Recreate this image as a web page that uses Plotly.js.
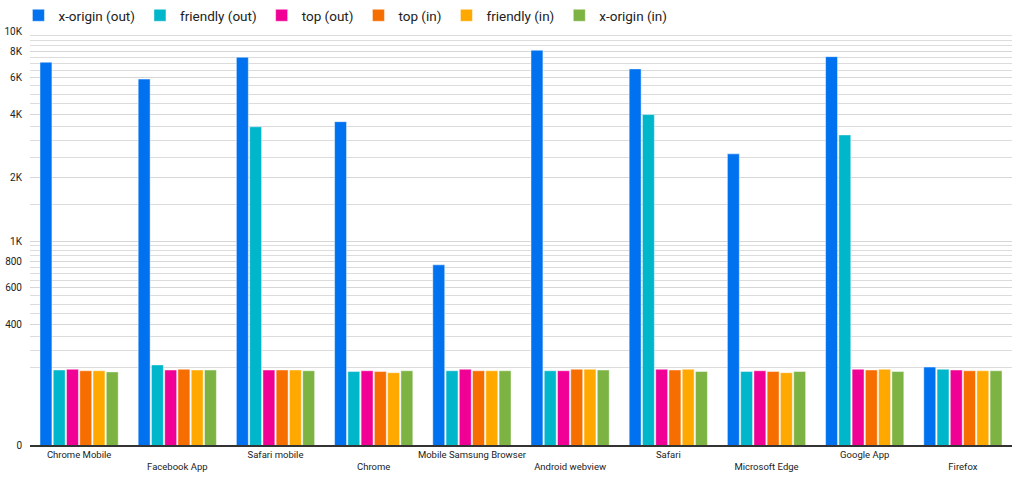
<!DOCTYPE html>
<html>
<head>
<meta charset="utf-8">
<script src="https://cdn.plot.ly/plotly-3.0.1.min.js"></script>
<style>
  html, body { margin: 0; padding: 0; background: #fff; }
  #chart { width: 1024px; height: 479px; }
</style>
</head>
<body>
<div id="chart"></div>
<script>
var browsers = ['Chrome Mobile', 'Facebook App', 'Safari mobile', 'Chrome', 'Mobile Samsung Browser',
                'Android webview', 'Safari', 'Microsoft Edge', 'Google App', 'Firefox'];

var xOriginOut  = [7100, 5900, 7500, 3700, 770, 8100, 6600, 2600, 7550, 251];
var friendlyOut = [243, 257, 3500, 239, 241, 241, 4000, 239, 3200, 245];
var topOut      = [245, 243, 243, 241, 245, 241, 245, 241, 245, 243];
var topIn       = [241, 245, 243, 239, 241, 245, 243, 239, 243, 241];
var friendlyIn  = [241, 243, 243, 236, 241, 245, 245, 236, 245, 241];
var xOriginIn   = [238, 243, 241, 241, 241, 243, 239, 239, 239, 241];

var seriesNames = ['x-origin (out)', 'friendly (out)', 'top (out)', 'top (in)', 'friendly (in)', 'x-origin (in)'];
var seriesData = [xOriginOut, friendlyOut, topOut, topIn, friendlyIn, xOriginIn];
var colors = ['#0072f0', '#00b6cb', '#f10096', '#f66d00', '#ffa800', '#7cb342'];

var yTickVals = [106.8, 400, 600, 800, 1000, 2000, 4000, 6000, 8000, 10000];
var yTickText = ['0', '400', '600', '800', '1K', '2K', '4K', '6K', '8K', '10K'];

// staggered category labels: every second one drops a line
var xTickText = browsers.map(function(b, i){ return i % 2 ? '<br>' + b : b; });

// light gridlines: every 50 below 1K, every 500 above
var grid = [];
for (var g = 250; g <= 1000; g += 50) grid.push(g);
for (var h = 1500; h <= 10000; h += 500) grid.push(h);

var data = seriesData.map(function(vals, i){
  return {
    type: 'bar',
    name: seriesNames[i],
    x: browsers,
    y: vals,
    marker: { color: colors[i], line: { color: 'rgba(255,255,255,0.45)', width: 1 } },
    hoverinfo: 'none'
  };
});

var layout = {
  width: 1024, height: 479,
  margin: { l: 30, r: 12, t: 31, b: 34 },
  paper_bgcolor: '#fff', plot_bgcolor: '#fff',
  font: { family: 'Roboto, sans-serif', size: 10, color: '#222' },
  barmode: 'group',
  bargap: 0.19,
  bargroupgap: 0.1,
  showlegend: true,
  legend: {
    orientation: 'h',
    xref: 'container', yref: 'container',
    x: 0.018, y: 1, xanchor: 'left', yanchor: 'top',
    bgcolor: 'rgba(0,0,0,0)',
    font: { size: 13.5, color: '#222' },
    itemwidth: 30,
    traceorder: 'normal'
  },
  xaxis: {
    type: 'category',
    tickmode: 'array', tickvals: browsers, ticktext: xTickText,
    tickangle: 0,
    showgrid: false,
    showline: true, linecolor: '#333', linewidth: 1.5,
    ticks: '', ticklen: 0,
    tickfont: { size: 9.5, color: '#222' },
    fixedrange: true
  },
  yaxis: {
    type: 'log',
    range: [Math.log10(106.8), 4],
    tickmode: 'array', tickvals: yTickVals, ticktext: yTickText,
    showgrid: true, gridcolor: '#d6d6d6', gridwidth: 1,
    minor: { tickmode: 'array', tickvals: grid, showgrid: true, gridcolor: '#dcdcdc', gridwidth: 1, ticks: '' },
    zeroline: false,
    showline: false,
    ticks: '',
    ticklabelstandoff: 7,
    tickfont: { size: 10, color: '#222' },
    fixedrange: true
  }
};

Plotly.newPlot('chart', data, layout, { staticPlot: true });
</script>
</body>
</html>
